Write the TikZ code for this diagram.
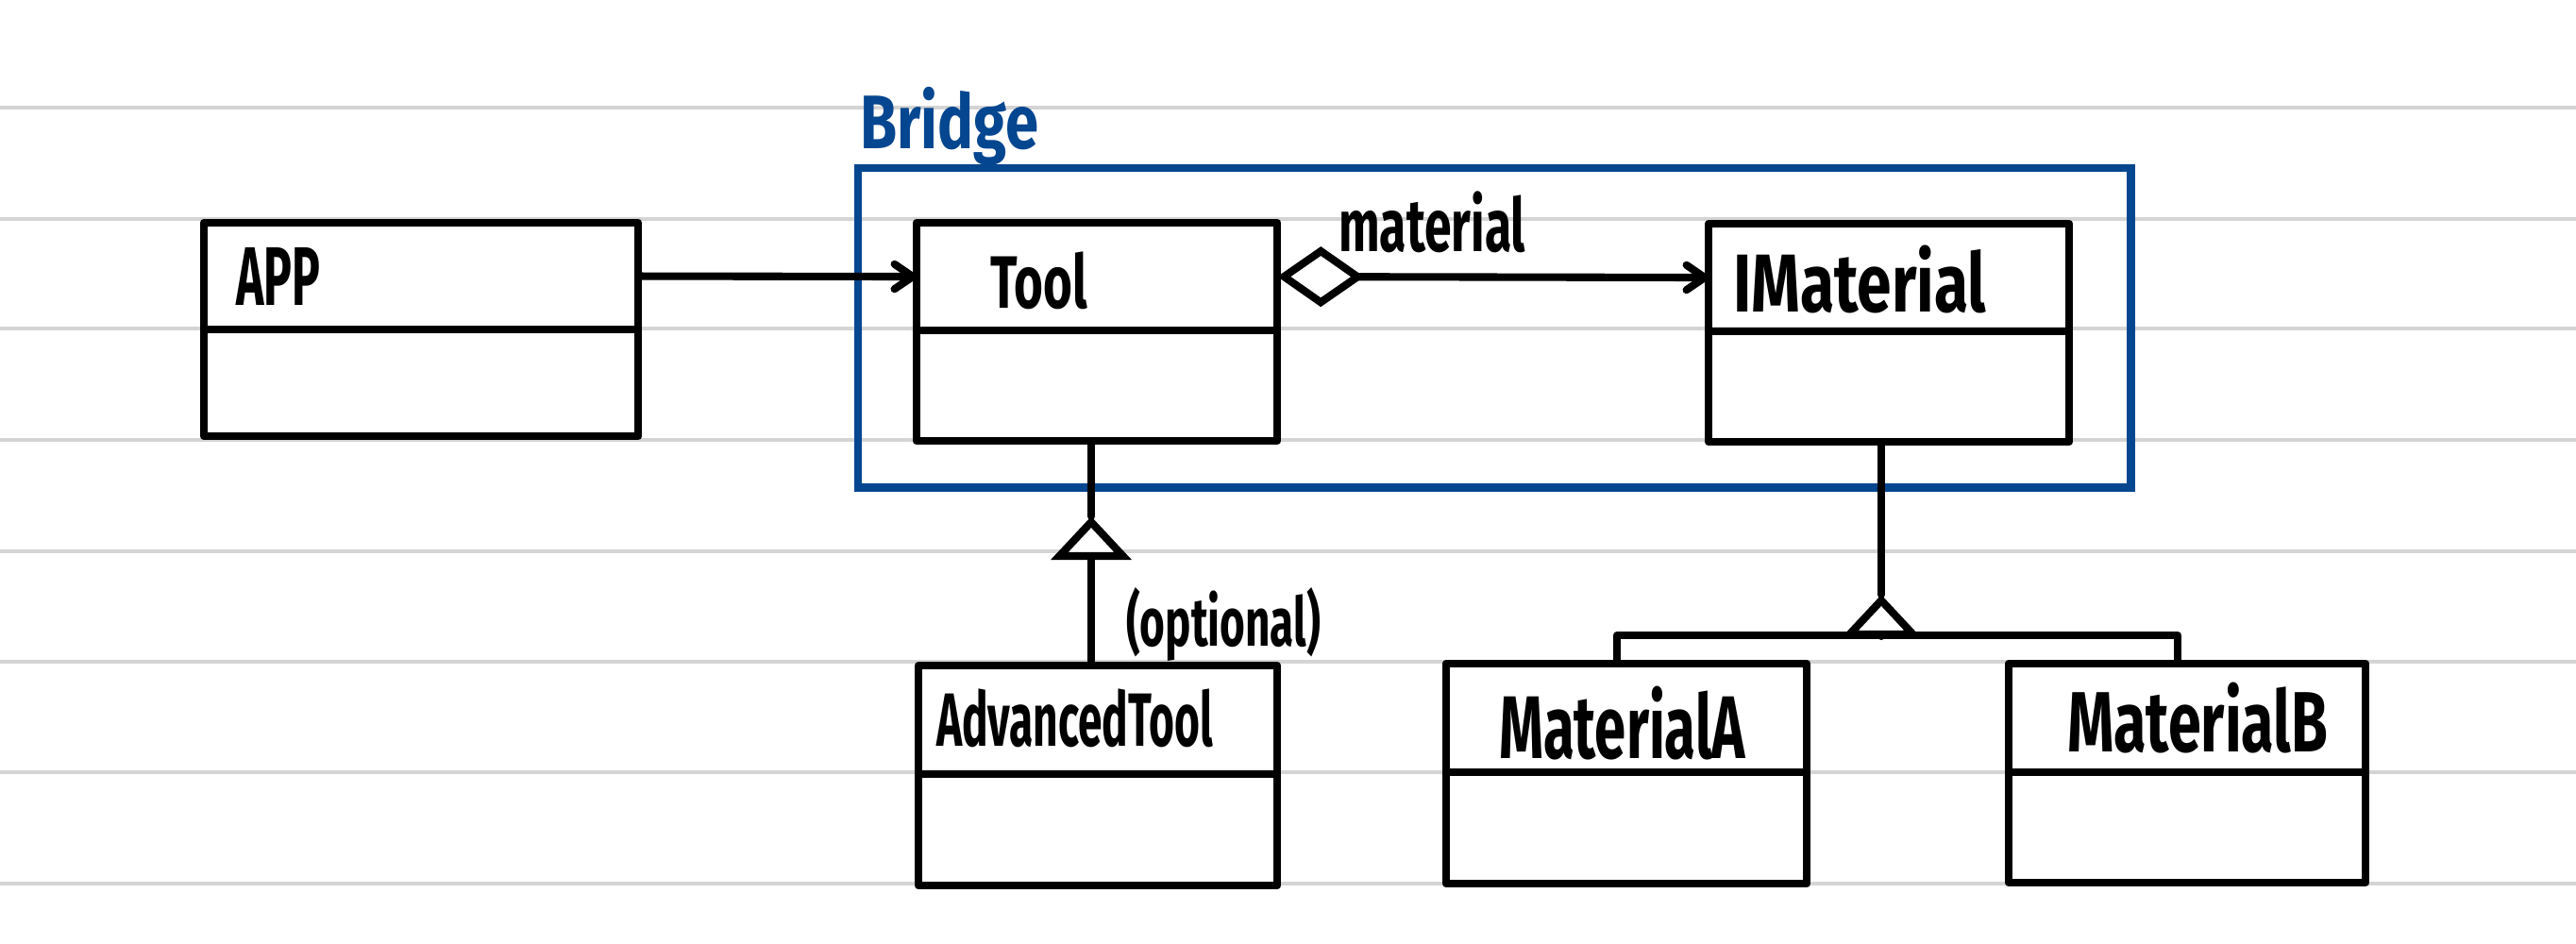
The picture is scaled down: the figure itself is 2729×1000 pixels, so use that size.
\documentclass[tikz,border=0pt]{standalone}
\usepackage{fontspec}
\setmainfont{Fira Sans}
\usepackage{graphicx}
\usetikzlibrary{arrows.meta}
\definecolor{bridgeblue}{RGB}{4,70,143}
\definecolor{ruled}{RGB}{212,212,212}
\newcommand{\fitto}[3]{\resizebox*{#1}{#2}{\bfseries #3}}
\tikzset{
  clsbox/.style={draw, line width=2.4pt, rectangle, inner sep=0pt, outer sep=0pt, anchor=north west, line join=round},
  clsname/.style={inner sep=0pt, outer sep=0pt, anchor=north west},
  conn/.style={line width=2.3pt, line cap=round, line join=round},
  navi/.style={-{Straight Barb[length=5.5pt,width=7.5pt,round]}},
  aggr/.style={{Diamond[open,fill=white,length=0.92cm,width=0.64cm]}-{Straight Barb[length=5.5pt,width=7.5pt,round]}},
  inh/.style={-{Triangle[open,fill=white,length=0.46cm,width=0.84cm]}},
  ruleline/.style={ruled, line width=0.9pt},
}
\begin{document}
\begin{tikzpicture}[x=0.01cm,y=-0.01cm]
\useasboundingbox (0,0) rectangle (2729,1000);
% ruled paper lines
\foreach \yy [count=\i] in {114,232,348,466,584,701,818,936}{
  \coordinate (rl\i a) at (0,\yy);
  \coordinate (rl\i b) at (2729,\yy);
  \draw[ruleline] (rl\i a) -- (rl\i b);
}
% Bridge frame
\node[draw=bridgeblue, line width=2.5pt, rectangle, inner sep=0pt, outer sep=0pt, anchor=north west,
      minimum width=13.48cm, minimum height=3.38cm] (bridge) at (909,178) {};
\node[clsname, text=bridgeblue] (bridgelabel) at (911,92) {\fitto{1.89cm}{0.83cm}{Bridge}};
% classes
\node[clsbox, minimum width=4.60cm, minimum height=1.13cm] (app) at (216,236) {};
\node[clsbox, minimum width=4.60cm, minimum height=1.13cm] (app-b) at (216,349) {};
\node[clsname] (appname) at (250,262) {\fitto{0.89cm}{0.61cm}{APP}};

\node[clsbox, minimum width=3.82cm, minimum height=1.14cm] (tool) at (971,236) {};
\node[clsbox, minimum width=3.82cm, minimum height=1.17cm] (tool-b) at (971,350) {};
\node[clsname] (toolname) at (1049,267) {\fitto{1.03cm}{0.61cm}{Tool}};

\node[clsbox, minimum width=3.82cm, minimum height=1.14cm] (imat) at (1810,237) {};
\node[clsbox, minimum width=3.82cm, minimum height=1.17cm] (imat-b) at (1810,351) {};
\node[clsname] (imatname) at (1836,260) {\fitto{2.68cm}{0.72cm}{IMaterial}};

\node[clsbox, minimum width=3.80cm, minimum height=1.15cm] (adv) at (973,705) {};
\node[clsbox, minimum width=3.80cm, minimum height=1.18cm] (adv-b) at (973,820) {};
\node[clsname] (advname) at (992,730) {\fitto{2.93cm}{0.62cm}{AdvancedTool}};

\node[clsbox, minimum width=3.82cm, minimum height=1.15cm] (mata) at (1532,703) {};
\node[clsbox, minimum width=3.82cm, minimum height=1.18cm] (mata-b) at (1532,818) {};
\node[clsname] (mataname) at (1588,727) {\fitto{2.61cm}{0.78cm}{MaterialA}};

\node[clsbox, minimum width=3.78cm, minimum height=1.15cm] (matb) at (2128,703) {};
\node[clsbox, minimum width=3.78cm, minimum height=1.17cm] (matb-b) at (2128,818) {};
\node[clsname] (matbname) at (2190,723) {\fitto{2.76cm}{0.75cm}{MaterialB}};

% connectors
\draw[conn, navi] (app.east) -- (tool.west);
\draw[conn, aggr] (tool.east) -- (imat.west);
\node[clsname] (matlabel) at (1418,203) {\fitto{1.98cm}{0.65cm}{material}};

\coordinate (gen1) at (1156,547);
\draw[conn] (gen1 |- tool-b.south) -- (gen1);
\draw[conn, inh] (gen1 |- adv.north) -- (gen1);
\node[clsname] (optlabel) at (1193,622) {\fitto{2.06cm}{0.78cm}{(optional)}};

\coordinate (gen2) at (1993,630);
\coordinate (genbase) at (1993,673);
\coordinate (barA) at (1713,673);
\coordinate (barB) at (2307,673);
\draw[conn] (gen2 |- imat-b.south) -- (gen2);
\draw[conn, inh] (genbase) -- (gen2);
\draw[conn] (barA |- mata.north) -- (barA) -- (barB) -- (barB |- matb.north);
\end{tikzpicture}
\end{document}
